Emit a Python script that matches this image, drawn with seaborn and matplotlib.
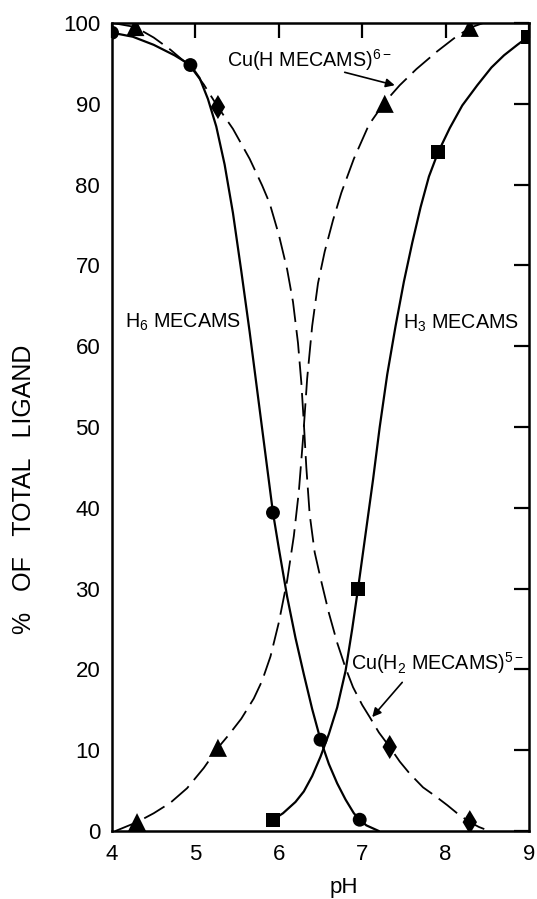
import matplotlib
matplotlib.use("Agg")
import matplotlib.pyplot as plt
import seaborn as sns
import pandas as pd

# ---- data ----
# marker points
h6_pts_x = [4.00, 4.94, 5.93, 6.50, 6.97]
h6_pts_y = [98.8, 94.8, 39.4, 11.3, 1.4]
h3_pts_x = [5.93, 6.95, 7.91, 8.99]
h3_pts_y = [1.4, 30.0, 84.0, 98.3]
cuh_pts_x = [4.30, 5.27, 7.27, 8.29]
cuh_pts_y = [1.1, 10.3, 90.0, 99.4]
cuh2_pts_x = [4.28, 5.27, 7.33, 8.29]
cuh2_pts_y = [99.5, 89.6, 10.4, 1.1]
cuh2_pts_marker = ["tri", "dia", "dia", "dia"]

# traced curves
h6_curve_x = [4.00, 4.25, 4.50, 4.75, 4.94, 5.05, 5.15, 5.25, 5.35, 5.45, 5.55,
              5.65, 5.75, 5.85, 5.93, 6.00, 6.10, 6.20, 6.30, 6.40, 6.50, 6.60,
              6.70, 6.80, 6.90, 6.97, 7.05, 7.20]
h6_curve_y = [98.8, 98.3, 97.3, 96.0, 94.8, 93.2, 90.6, 87.2, 82.5, 76.5, 69.3,
              61.8, 53.8, 45.8, 39.4, 35.0, 29.0, 23.9, 19.4, 15.1, 11.3, 8.3,
              5.9, 3.9, 2.2, 1.4, 0.7, 0.0]
h3_curve_x = [5.93, 6.05, 6.20, 6.30, 6.40, 6.50, 6.60, 6.70, 6.80, 6.88, 6.95,
              7.05, 7.13, 7.21, 7.30, 7.40, 7.50, 7.60, 7.70, 7.80, 7.91, 8.05,
              8.20, 8.38, 8.55, 8.70, 8.86, 8.99]
h3_curve_y = [1.4, 2.2, 3.6, 4.9, 6.8, 9.2, 12.0, 15.3, 19.8, 25.0, 30.0,
              37.5, 43.5, 50.0, 56.5, 62.5, 68.0, 72.8, 77.2, 81.0, 84.0, 87.0,
              89.8, 92.3, 94.5, 96.0, 97.3, 98.3]
cuh_curve_x = [4.04, 4.30, 4.50, 4.70, 4.90, 5.10, 5.27, 5.40, 5.55, 5.70, 5.80,
               5.90, 6.00, 6.10, 6.18, 6.24, 6.29, 6.34, 6.40, 6.47, 6.55, 6.65,
               6.75, 6.90, 7.08, 7.27, 7.45, 7.65, 7.90, 8.10, 8.29, 8.45]
cuh_curve_y = [0.0, 1.1, 2.2, 3.5, 5.3, 7.8, 10.3, 11.9, 13.9, 16.4, 18.6,
               21.6, 25.8, 31.0, 36.5, 42.0, 48.5, 56.0, 62.5, 67.8, 71.7, 75.6,
               79.0, 83.2, 87.4, 90.2, 92.3, 94.3, 96.5, 98.1, 99.4, 100.0]
cuh2_curve_x = [4.01, 4.28, 4.50, 4.70, 4.94, 5.10, 5.27, 5.45, 5.65, 5.80, 5.89,
                6.00, 6.10, 6.17, 6.23, 6.27, 6.30, 6.33, 6.37, 6.43, 6.50, 6.60,
                6.70, 6.80, 6.89, 7.00, 7.09, 7.20, 7.33, 7.45, 7.57, 7.73, 7.88,
                8.02, 8.15, 8.29, 8.40, 8.50]
cuh2_curve_y = [100.0, 99.5, 98.2, 96.7, 94.6, 92.4, 89.6, 86.9, 83.2, 79.9, 77.7,
                73.8, 69.5, 65.5, 60.4, 55.5, 50.5, 45.0, 39.2, 34.5, 31.3, 27.0,
                23.3, 20.2, 17.8, 15.6, 14.1, 12.2, 10.4, 8.6, 7.1, 5.4, 4.3,
                3.2, 2.1, 1.1, 0.5, 0.1]

x_ticks = [4, 5, 6, 7, 8, 9]
y_ticks = [0, 10, 20, 30, 40, 50, 60, 70, 80, 90, 100]

# ---- style ----
sns.set_style("white")
plt.rcParams.update({
    "font.family": ["Liberation Sans", "DejaVu Sans"],
    "mathtext.fontset": "custom",
    "mathtext.rm": "Liberation Sans",
    "mathtext.it": "Liberation Sans",
    "mathtext.bf": "Liberation Sans:bold",
    "mathtext.default": "regular",
    "text.color": "black",
    "axes.labelcolor": "black",
    "xtick.color": "black",
    "ytick.color": "black",
    "axes.edgecolor": "black",
    "axes.linewidth": 1.8,
})

fig = plt.figure(figsize=(5.37, 8.99), dpi=100)
ax = fig.add_axes([0.2086, 0.0756, 0.7765, 0.8988])

solid_lw = 1.6
dash_lw = 1.3
sns.lineplot(x=h6_curve_x, y=h6_curve_y, color="black", lw=solid_lw, estimator=None, ax=ax)
sns.lineplot(x=h3_curve_x, y=h3_curve_y, color="black", lw=solid_lw, estimator=None, ax=ax)
sns.lineplot(x=cuh_curve_x, y=cuh_curve_y, color="black", lw=dash_lw, estimator=None, ax=ax)
ax.lines[-1].set_dashes((13, 4.5))
sns.lineplot(x=cuh2_curve_x, y=cuh2_curve_y, color="black", lw=dash_lw, estimator=None, ax=ax)
ax.lines[-1].set_dashes((13, 4.5))
for ln in ax.lines:
    ln.set_solid_joinstyle("round")
    ln.set_dash_joinstyle("round")

sns.scatterplot(x=h6_pts_x, y=h6_pts_y, marker="o", s=100, color="black",
                edgecolor="none", linewidth=0, ax=ax, zorder=5)
sns.scatterplot(x=h3_pts_x, y=h3_pts_y, marker="s", s=100, color="black",
                edgecolor="none", linewidth=0, ax=ax, zorder=5)
sns.scatterplot(x=cuh_pts_x, y=cuh_pts_y, marker="^", s=170, color="black",
                edgecolor="none", linewidth=0, ax=ax, zorder=5)
df2 = pd.DataFrame({"x": cuh2_pts_x, "y": cuh2_pts_y, "m": cuh2_pts_marker})
for key, mk, sz in [("tri", "^", 170), ("dia", "d", 150)]:
    sub = df2[df2["m"] == key]
    sns.scatterplot(data=sub, x="x", y="y", marker=mk, s=sz, color="black",
                    edgecolor="none", linewidth=0, ax=ax, zorder=5)

ax.set_xlim(4, 9)
ax.set_ylim(0, 100)
ax.set_xticks(x_ticks)
ax.set_yticks(y_ticks)
ax.set_xticklabels([str(t) for t in x_ticks])
ax.set_yticklabels([str(t) for t in y_ticks])
ax.tick_params(direction="in", length=11, width=1.6, top=True, right=True,
               labelsize=16)
ax.tick_params(axis="y", pad=8.5)
ax.tick_params(axis="x", pad=9)
for sp in ax.spines.values():
    sp.set_visible(True)
    sp.set_linewidth(1.8)
    sp.set_color("black")

ax.set_xlabel("pH", fontsize=16)
ax.xaxis.label.set_va("center")
ax.xaxis.set_label_coords(0.556, -0.070)
ax.set_ylabel("%   OF   TOTAL   LIGAND", fontsize=18)
ax.yaxis.label.set_va("center")
ax.yaxis.set_label_coords(-0.212, 0.423)

# annotations
fs = 14.2
ax.text(4.16, 62.9, "H$_6$ MECAMS", fontsize=fs, ha="left", va="center")
ax.text(7.49, 62.8, "H$_3$ MECAMS", fontsize=fs, ha="left", va="center")
ax.text(5.38, 95.4, "Cu(H MECAMS)$^{6-}$", fontsize=fs, ha="left", va="center")
ax.text(6.86, 20.8, "Cu(H$_2$ MECAMS)$^{5-}$", fontsize=fs, ha="left", va="center")
arrow = dict(arrowstyle="-|>", color="black", lw=1.2, mutation_scale=13,
             shrinkA=0, shrinkB=0)
ax.annotate("", xy=(7.39, 92.3), xytext=(6.79, 93.9), arrowprops=arrow)
ax.annotate("", xy=(7.12, 14.1), xytext=(7.48, 18.4), arrowprops=arrow)

fig.savefig("out.png", dpi=100)
